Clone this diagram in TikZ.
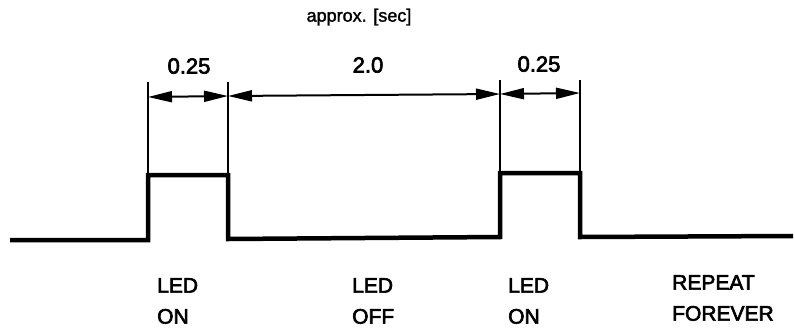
\documentclass[tikz,border=0pt]{standalone}
\usepackage{fontspec}
\setmainfont{Liberation Sans}
\newfontfamily\lettering[FakeBold=3]{Liberation Sans}
\newfontfamily\unitfont[FakeBold=1.5]{Liberation Sans}
\usetikzlibrary{arrows.meta}
\begin{document}
\begin{tikzpicture}[x=1pt, y=-1pt]
        \tikzstyle{signal}=[line width=4.5pt, line join=miter];
        \tikzstyle{extline}=[line width=2pt];
        \tikzstyle{dimline}=[line width=2pt, {Triangle[length=24pt,width=11pt]}-{Triangle[length=24pt,width=11pt]}];
        \tikzstyle{dimlabel}=[font=\lettering\fontsize{22}{22}\selectfont, inner sep=0pt];
        \tikzstyle{state}=[font=\lettering\fontsize{21}{31}\selectfont, align=left, anchor=north west, inner sep=0pt];

        \useasboundingbox (0,0) rectangle (795,333);

        % waveform corners
        \coordinate (start) at (10,240);
        \coordinate (rise1) at (148,240);
        \coordinate (top1a) at (148,175);
        \coordinate (top1b) at (228,175);
        \coordinate (fall1) at (228,239);
        \coordinate (rise2) at (500,237);
        \coordinate (top2a) at (500,173);
        \coordinate (top2b) at (580,173);
        \coordinate (fall2) at (580,237);
        \coordinate (stop) at (793,236);

        \draw[signal] (start) -- (rise1) -- (top1a) -- (top1b) -- (fall1) -- (rise2) -- (top2a) -- (top2b) -- (fall2) -- (stop);

        % extension lines
        \coordinate (ext1) at (148,82);
        \coordinate (ext2) at (228,82);
        \coordinate (ext3) at (500,80);
        \coordinate (ext4) at (580,80);
        \draw[extline] (ext1) -- (top1a);
        \draw[extline] (ext2) -- (top1b);
        \draw[extline] (ext3) -- (top2a);
        \draw[extline] (ext4) -- (top2b);

        % dimension arrows
        \coordinate (dim1) at (148,97);
        \coordinate (dim2) at (228,96);
        \coordinate (dim3) at (500,94);
        \coordinate (dim4) at (580,93);
        \draw[dimline] (dim1) -- (dim2);
        \draw[dimline] (dim2) -- (dim3);
        \draw[dimline] (dim3) -- (dim4);

        \node[dimlabel] (on1time) at (189,66) {0.25};
        \node[dimlabel] (offtime) at (368,65) {2.0};
        \node[dimlabel] (on2time) at (539,64) {0.25};
        \node[inner sep=0pt, font=\unitfont\fontsize{18}{18}\selectfont] (unit) at (359,17) {approx. [sec]};

        % states
        \node[state] (ledon1) at (157,278) {LED\\ON};
        \node[state] (ledoff) at (352,278) {LED\\OFF};
        \node[state] (ledon2) at (508,278) {LED\\ON};
        \node[state] (repeat) at (672,275) {REPEAT\\FOREVER};
    \end{tikzpicture}
\end{document}
